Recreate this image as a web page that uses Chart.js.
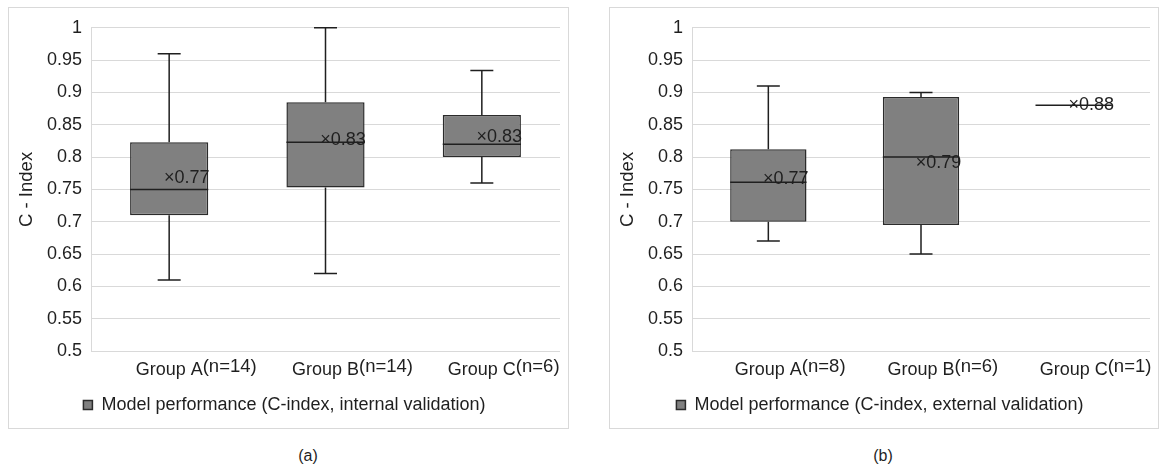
<!DOCTYPE html>
<html>
<head>
<meta charset="utf-8">
<script src="https://cdn.jsdelivr.net/npm/chart.js@4.4.1/dist/chart.umd.min.js"></script>
<style>
  body { margin: 0; background: #fff; font-family: "Liberation Sans", Arial, sans-serif; }
  .panel { position: absolute; border: 1px solid #d9d9d9; box-sizing: border-box; }
  .panel canvas { position: absolute; left: 0; top: 0; }
  .caption { position: absolute; top: 447px; font-size: 16px; color: #1f1f1f; width: 60px; text-align: center; }
</style>
</head>
<body>
<div class="panel" style="left:8px; top:7px; width:561px; height:422px;"><canvas id="internal" width="559" height="420"></canvas></div>
<div class="panel" style="left:609px; top:7px; width:550px; height:422px;"><canvas id="external" width="548" height="420"></canvas></div>
<div class="caption" style="left:278px;">(a)</div>
<div class="caption" style="left:853px;">(b)</div>
<script>
// internal validation
var intCategories = ['Group A', 'Group B', 'Group C'];
var intCounts     = ['(n=14)', '(n=14)', '(n=6)'];
var intMin    = [0.61, 0.62, 0.76];
var intQ1     = [0.71, 0.753, 0.80];
var intMedian = [0.75, 0.823, 0.82];
var intQ3     = [0.823, 0.885, 0.865];
var intMax    = [0.96, 1.0, 0.934];
var intMean   = [0.767, 0.826, 0.831];

// external validation
var extCategories = ['Group A', 'Group B', 'Group C'];
var extCounts     = ['(n=8)', '(n=6)', '(n=1)'];
var extMin    = [0.67, 0.65, 0.88];
var extQ1     = [0.70, 0.695, 0.88];
var extMedian = [0.761, 0.80, 0.88];
var extQ3     = [0.812, 0.893, 0.88];
var extMax    = [0.91, 0.90, 0.88];
var extMean   = [0.766, 0.791, 0.88];

var yTicks = [0.5, 0.55, 0.6, 0.65, 0.7, 0.75, 0.8, 0.85, 0.9, 0.95, 1];

var FONT = '"Liberation Sans", Arial, sans-serif';
var INK = '#1f1f1f';

var boxExtras = {
    id: 'boxExtras',
    beforeDatasetsDraw(chart, args, opts) {
        var y = chart.scales.y;
        var meta = chart.getDatasetMeta(0);
        var c = chart.ctx;
        c.save();
        c.strokeStyle = INK;
        c.lineWidth = 1.5;
        meta.data.forEach(function (bar, i) {
            var x = bar.x, cap = 11.5;
            var lo = opts.q1[i], hi = opts.q3[i];
            if (opts.max[i] > hi) {
                c.beginPath();
                c.moveTo(x, y.getPixelForValue(hi));
                c.lineTo(x, y.getPixelForValue(opts.max[i]));
                c.moveTo(x - cap, y.getPixelForValue(opts.max[i]));
                c.lineTo(x + cap, y.getPixelForValue(opts.max[i]));
                c.stroke();
            }
            if (opts.min[i] < lo) {
                c.beginPath();
                c.moveTo(x, y.getPixelForValue(lo));
                c.lineTo(x, y.getPixelForValue(opts.min[i]));
                c.moveTo(x - cap, y.getPixelForValue(opts.min[i]));
                c.lineTo(x + cap, y.getPixelForValue(opts.min[i]));
                c.stroke();
            }
        });
        c.restore();
    },
    afterDatasetsDraw(chart, args, opts) {
        var y = chart.scales.y;
        var meta = chart.getDatasetMeta(0);
        var c = chart.ctx;
        c.save();
        c.strokeStyle = INK;
        c.lineWidth = 1.5;
        c.font = '18px ' + FONT;
        c.fillStyle = INK;
        c.textBaseline = 'middle';
        c.textAlign = 'left';
        meta.data.forEach(function (bar, i) {
            var x = bar.x, half = bar.width / 2;
            var my = y.getPixelForValue(opts.median[i]);
            c.beginPath();
            c.moveTo(x - half, my);
            c.lineTo(x + half, my);
            c.stroke();
            var cross = c.measureText('\u00d7').width;
            c.fillText('\u00d7' + opts.mean[i].toFixed(2), x - cross / 2, y.getPixelForValue(opts.mean[i]));
        });
        c.restore();
    },
    afterDraw(chart, args, opts) {
        // sample size written just after each category name, a little raised
        var xs = chart.scales.x;
        var c = chart.ctx;
        var ty = xs.top + 8 + 18 * 1.2 / 2;
        c.save();
        c.fillStyle = INK;
        c.textBaseline = 'middle';
        c.textAlign = 'left';
        xs.getLabels().forEach(function (lab, i) {
            c.font = '18px ' + FONT;
            var w = c.measureText(lab).width;
            c.font = '18.5px ' + FONT;
            c.fillText(opts.counts[i], xs.getPixelForValue(i) + w / 2, ty - 2.5);
        });
        c.restore();
    }
};

function makeChart(id, categories, counts, mins, q1s, medians, q3s, maxs, means, legendText) {
    var ctx = document.getElementById(id).getContext('2d');
    return new Chart(ctx, {
        type: 'bar',
        data: {
            labels: categories,
            datasets: [{
                label: legendText,
                data: q1s.map(function (v, i) { return [v, q3s[i]]; }),
                backgroundColor: '#808080',
                borderColor: '#2b2b2b',
                borderWidth: 1.5,
                borderSkipped: false,
                barPercentage: 0.5,
                categoryPercentage: 1
            }]
        },
        options: {
            responsive: false,
            animation: false,
            devicePixelRatio: 1,
            layout: { padding: { top: 17, right: 8, left: 0, bottom: 4 } },
            plugins: {
                legend: {
                    position: 'bottom',
                    labels: {
                        boxWidth: 9,
                        boxHeight: 9,
                        padding: 10,
                        color: INK,
                        font: { family: FONT, size: 18 }
                    }
                },
                tooltip: { enabled: false },
                boxExtras: { counts: counts, min: mins, q1: q1s, median: medians, q3: q3s, max: maxs, mean: means }
            },
            scales: {
                x: {
                    grid: { display: false, drawTicks: false },
                    border: { display: false },
                    ticks: { color: INK, padding: 8, font: { family: FONT, size: 18 } },
                    afterFit: function (s) { s.height = 35; }
                },
                y: {
                    min: yTicks[0],
                    max: yTicks[yTicks.length - 1],
                    afterBuildTicks: function (s) { s.ticks = yTicks.map(function (v) { return { value: v }; }); },
                    grid: { color: '#d9d9d9', lineWidth: 1, drawTicks: false },
                    border: { display: true, color: '#d9d9d9', width: 1 },
                    ticks: {
                        color: INK,
                        padding: 9,
                        font: { family: FONT, size: 18 },
                        callback: function (v) { return String(+Number(v).toFixed(2)); }
                    },
                    title: {
                        display: true,
                        text: 'C - Index',
                        color: INK,
                        padding: { top: 7, bottom: 0 },
                        font: { family: FONT, size: 18.5 }
                    },
                    afterFit: function (s) { s.width = 82; }
                }
            }
        },
        plugins: [boxExtras]
    });
}

makeChart('internal', intCategories, intCounts, intMin, intQ1, intMedian, intQ3, intMax, intMean,
    'Model performance (C-index, internal validation)');
makeChart('external', extCategories, extCounts, extMin, extQ1, extMedian, extQ3, extMax, extMean,
    'Model performance (C-index, external validation)');
</script>
</body>
</html>
